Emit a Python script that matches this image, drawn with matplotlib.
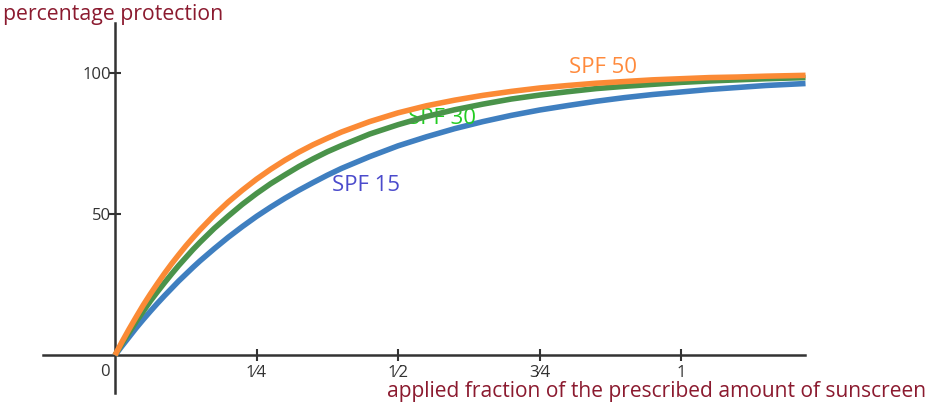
import matplotlib
matplotlib.use("Agg")
import matplotlib.pyplot as plt

plt.rcParams['font.family'] = ['Open Sans', 'DejaVu Sans']

# fraction of prescribed amount
fraction = [0, 0.0125, 0.025, 0.0375, 0.05, 0.0625, 0.075, 0.0875, 0.1, 0.1125,
            0.125, 0.1375, 0.15, 0.175, 0.2, 0.225, 0.25, 0.275, 0.3, 0.325,
            0.35, 0.375, 0.4, 0.45, 0.5, 0.55, 0.6, 0.65, 0.7, 0.75,
            0.8, 0.85, 0.9, 0.95, 1.0, 1.05, 1.1, 1.15, 1.22]

# percentage protection for each SPF
spf15 = [0, 3.3, 6.5, 9.7, 12.7, 15.6, 18.4, 21.1, 23.7, 26.3,
         28.7, 31.1, 33.4, 37.7, 41.8, 45.6, 49.2, 52.5, 55.6, 58.5,
         61.2, 63.8, 66.2, 70.4, 74.2, 77.4, 80.3, 82.8, 85.0, 86.9,
         88.5, 90.0, 91.3, 92.4, 93.3, 94.2, 94.9, 95.6, 96.3]
spf30 = [0, 4.2, 8.1, 12.0, 15.6, 19.2, 22.5, 25.7, 28.8, 31.8,
         34.6, 37.4, 40.0, 44.9, 49.3, 53.5, 57.3, 60.8, 63.9, 66.9,
         69.6, 72.1, 74.3, 78.4, 81.7, 84.6, 87.0, 89.0, 90.8, 92.2,
         93.4, 94.5, 95.3, 96.0, 96.7, 97.2, 97.6, 98.0, 98.4]
spf50 = [0, 4.8, 9.3, 13.6, 17.8, 21.7, 25.4, 29.0, 32.4, 35.6,
         38.7, 41.6, 44.4, 49.6, 54.3, 58.5, 62.4, 65.9, 69.1, 72.0,
         74.6, 76.9, 79.1, 82.8, 85.9, 88.4, 90.4, 92.1, 93.5, 94.7,
         95.6, 96.4, 97.0, 97.6, 98.0, 98.4, 98.6, 98.9, 99.2]

x_ticks = [0.25, 0.5, 0.75, 1.0]
x_tick_labels = ['1\u20444', '1\u20442', '3\u20444', '1']
y_ticks = [50, 100]
y_tick_labels = ['50', '100']

fig = plt.figure(figsize=(9.28, 4.08), dpi=100)
ax = fig.add_axes([0, 0, 1, 1])
ax.set_xlim(-0.2032, 1.4364)
ax.set_ylim(-18.7, 125.9)

ax.plot(fraction, spf15, color='#3f7fc0', lw=4, solid_joinstyle='round', solid_capstyle='butt', zorder=3)
ax.plot(fraction, spf30, color='#4a934a', lw=4, solid_joinstyle='round', solid_capstyle='butt', zorder=4)
ax.plot(fraction, spf50, color='#fb8a35', lw=4, solid_joinstyle='round', solid_capstyle='butt', zorder=5)

# axes through the origin
for s in ['top', 'right']:
    ax.spines[s].set_visible(False)
ax.spines['left'].set_position(('data', 0))
ax.spines['bottom'].set_position(('data', 0))
ax.spines['left'].set_bounds(-13.4, 117.8)
ax.spines['bottom'].set_bounds(-0.127, 1.219)
for s in ['left', 'bottom']:
    ax.spines[s].set_color('#333333')
    ax.spines[s].set_linewidth(1.8)
    ax.spines[s].set_zorder(2)

ax.set_xticks(x_ticks)
ax.set_xticklabels(x_tick_labels)
ax.set_yticks(y_ticks)
ax.set_yticklabels(y_tick_labels)
ax.tick_params(axis='both', direction='inout', length=8, width=1.5,
               color='#333333', labelsize=12, labelcolor='#333333')
ax.tick_params(axis='x', pad=3)
ax.tick_params(axis='y', pad=-1)

ax.text(-0.009, -3.0, '0', ha='right', va='top', fontsize=12, color='#333333')

# curve labels
ax.text(0.862, 102.0, 'SPF 50', color='#ff8a3c', fontsize=16, ha='center', va='center')
ax.text(0.578, 84.0, 'SPF 30', color='#22cc22', fontsize=16, ha='center', va='center')
ax.text(0.443, 60.0, 'SPF 15', color='#4b4bcc', fontsize=16, ha='center', va='center')

# axis titles
fig.text(0.003, 0.965, 'percentage protection', color='#8b1a2f', fontsize=15.3,
         ha='left', va='center')
fig.text(0.998, 0.04, 'applied fraction of the prescribed amount of sunscreen',
         color='#8b1a2f', fontsize=15.15, ha='right', va='center')

fig.savefig('out.png', dpi=100)
